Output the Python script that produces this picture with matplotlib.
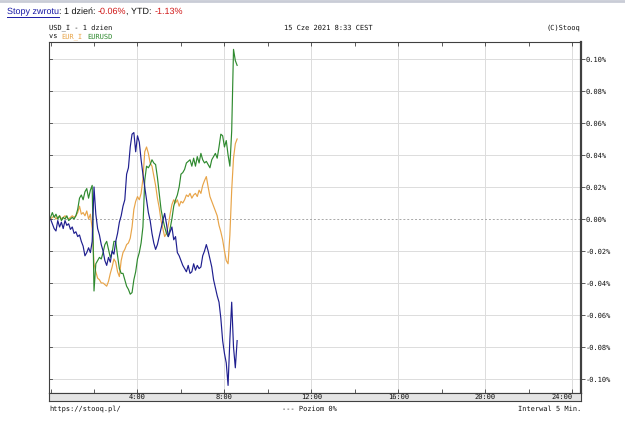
import numpy as np
import matplotlib.pyplot as plt
from matplotlib.lines import Line2D
from matplotlib.ticker import MultipleLocator, FixedLocator, FuncFormatter

plt.rcParams['text.hinting'] = 'none'
plt.rcParams['text.hinting_factor'] = 1

# 5-minute returns since 0:00, in hundredths of a percent
usd_i = [0, -0.3, -0.6, -0.75, -0.1, -0.5, -0.2, -0.6, -0.1, -0.4,
         -0.3, -0.65, -0.5, -0.9, -0.8, -1.1, -1.0, -1.4, -1.7, -2.3,
         -2.1, -1.8, -2.1, -1.4, 2.0, 0.3, -0.6, -1.0, -1.6, -2.0,
         -2.6, -2.9, -2.4, -2.7, -2.0, -2.2, -1.4, -0.9, -0.2, 0.2,
         0.8, 1.2, 2.8, 3.2, 4.5, 5.3, 5.4, 4.2, 5.2, 4.8,
         3.7, 2.8, 2.0, 1.2, 0.4, -0.1, -0.9, -1.5, -1.9, -1.6,
         -1.1, -0.6, -0.1, 0.35, -0.3, -1.1, -0.8, -0.5, -1.3, -1.1,
         -2.1, -2.3, -2.6, -2.9, -3.1, -3.3, -2.9, -3.4, -3.3, -2.8,
         -3.2, -2.9, -3.1, -3.0, -2.3, -2.0, -1.6, -2.0, -2.5, -3.0,
         -3.8, -4.3, -4.8, -5.2, -6.2, -7.6, -8.4, -9.0, -10.4, -7.5,
         -5.2, -8.0, -9.3, -7.6]
eur_i = [0.0, 0.1, 0.2, 0.0, 0.1, 0.2, 0.0, 0.1, 0.2, 0.1,
         0.0, 0.1, 0.2, 0.1, 0.2, 0.4, 0.8, 0.3, 0.4, 0.2,
         0.5, 0.0, 0.3, -0.6, -2.8, -3.3, -3.7, -3.8, -4.0, -4.0,
         -4.1, -4.2, -3.9, -3.4, -3.0, -2.5, -2.7, -3.3, -3.6, -2.6,
         -2.1, -1.9, -1.6, -1.5, -1.2, -0.5, 0.6, 1.1, 1.4, 1.2,
         1.6, 2.5, 4.2, 4.5, 4.1, 3.5, 3.3, 2.7, 2.1, 1.3,
         0.7, -0.1, -0.6, -1.1, -0.9, -0.4, 0.3, 0.9, 1.2, 1.0,
         1.2, 0.8, 1.1, 1.0, 1.2, 1.5, 1.4, 1.6, 1.3, 1.5,
         1.6, 1.4, 1.8, 1.6, 2.1, 2.4, 2.65, 2.0, 1.4, 1.1,
         0.8, 0.5, 0.2, -0.4, -0.8, -1.3, -2.0, -2.6, -2.8, -1.0,
         1.8, 3.8, 4.7, 5.0]
eurusd = [0.1, 0.4, 0.1, 0.3, 0.0, 0.2, -0.1, 0.1, 0.0, 0.2,
          -0.1, 0.0, 0.1, 0.0, 0.2, 0.6, 1.3, 1.5, 1.2, 1.7,
          1.9, 1.3, 1.8, 2.1, -4.5, -2.8, -2.6, -2.4, -2.5, -2.1,
          -1.6, -1.4, -1.9, -2.4, -2.1, -1.4, -1.4, -2.3, -3.1, -3.4,
          -3.4, -3.8, -4.2, -4.4, -4.7, -4.6, -3.8, -3.3, -2.5, -2.1,
          -1.5, -0.5, 2.4, 3.3, 3.2, 3.4, 3.7, 3.5, 3.4, 2.6,
          1.6, 0.6, 0.0, -0.5, -0.9, -1.1, -0.6, 0.0, 0.8, 1.2,
          1.5, 2.0, 2.8, 2.9, 3.1, 3.5, 3.6, 3.7, 3.3, 3.8,
          3.3, 3.9, 3.5, 4.1, 3.7, 3.5, 3.6, 3.4, 3.2, 3.7,
          3.9, 4.1, 3.8, 4.5, 5.3, 5.2, 4.5, 4.9, 4.0, 3.3,
          5.5, 10.6, 9.9, 9.6]

interval_min = 5
hour_labels = [4, 8, 12, 16, 20, 24]
pct_ticks = [-0.10, -0.08, -0.06, -0.04, -0.02, 0.0,
             0.02, 0.04, 0.06, 0.08, 0.10]

C_USD = '#1f1f8f'
C_EUR = '#e8a448'
C_EURUSD = '#2f8a2f'
C_FRAME = '#404040'
C_GRID = '#dcdcdc'
C_TXT = '#111111'
MONO = 'DejaVu Sans Mono'
SANS = 'Liberation Sans'
FS = 5.1

W, H = 625, 421
fig = plt.figure(figsize=(W / 100, H / 100), dpi=100)


def fx(px):
    return px / W


def fy(py):
    return 1 - py / H


# ---- main panel ----
ax = fig.add_axes([fx(49), fy(393), fx(581) - fx(49), fy(42) - fy(393)])
hours = np.arange(len(usd_i)) * interval_min / 60
for vals, col in [(eur_i, C_EUR), (eurusd, C_EURUSD), (usd_i, C_USD)]:
    ax.plot(hours, np.array(vals) / 100, color=col, lw=0.85)

ax.set_xlim(-0.07, 24.4)
ax.set_ylim(-0.10875, 0.1106)

ax.xaxis.set_major_locator(FixedLocator(hour_labels))
ax.xaxis.set_minor_locator(MultipleLocator(2))
ax.yaxis.set_major_locator(FixedLocator(pct_ticks))
ax.set_xticklabels([])
ax.yaxis.set_major_formatter(FuncFormatter(lambda v, _: f'{v:.2f}%'))
ax.tick_params(axis='x', which='both', direction='in', top=True,
               length=3, width=0.6, color=C_FRAME)
ax.tick_params(axis='y', which='both', left=False, right=True,
               labelleft=False, labelright=True, direction='out',
               length=3, width=0.6, color=C_FRAME, pad=0.5,
               labelsize=FS, labelcolor=C_TXT)
for lab in ax.get_yticklabels():
    lab.set_family(MONO)
# short inner ticks on the left border
for v in pct_ticks:
    ax.plot([-0.07, 0.07], [v, v], color=C_FRAME, lw=0.6, clip_on=False)

ax.grid(True, which='major', color=C_GRID, lw=0.7)
ax.set_axisbelow(True)
for loc, gl in zip(ax.get_yticks(), ax.get_ygridlines()):
    if abs(loc) < 1e-9:
        gl.set_color('#a8a8a8')
        gl.set_linestyle((0, (2, 2)))

for side, sp in ax.spines.items():
    sp.set_color(C_FRAME)
    sp.set_linewidth(1.6 if side == 'right' else 0.8)

# ---- time label strip under the panel ----
strip = fig.add_axes([fx(49), fy(401), fx(581) - fx(49), fy(393) - fy(401)],
                     sharex=ax)
strip.set_facecolor('#e4e4e4')
strip.set_yticks([])
strip.tick_params(axis='x', which='both', length=0, labelbottom=False)
for sp in strip.spines.values():
    sp.set_color(C_FRAME)
    sp.set_linewidth(0.8)
for h in hour_labels:
    strip.text(h, 0.45, f'{h}:00', ha='center' if h < 24 else 'right',
               va='center', fontsize=FS, family=MONO, color=C_TXT,
               transform=strip.get_xaxis_transform())

# ---- header and footer text ----
fig.add_artist(Line2D([0, 1], [fy(1), fy(1)], color='#c9ccd6', lw=2))

renderer = fig.canvas.get_renderer()


def chain(x, y, pieces, **kw):
    for s, col in pieces:
        t = fig.text(x, y, s, color=col, va='center', **kw)
        bb = t.get_window_extent(renderer)
        yield t, x, bb.width / W
        x += bb.width / W


head = [('Stopy zwrotu', '#1a1aa6'), (': 1 dzień: ', '#111111'),
        ('-0.06%', '#d01818'), (', YTD: ', '#111111'),
        ('-1.13%', '#d01818')]
for i, (t, x0, w) in enumerate(chain(fx(7), fy(12), head,
                                     family=SANS, fontsize=6.8)):
    if i == 0:
        fig.add_artist(Line2D([x0, x0 + w], [fy(17), fy(17)],
                              color='#1a1aa6', lw=0.7))

fig.text(fx(49), fy(28), 'USD_I - 1 dzien', family=MONO, fontsize=FS,
         color=C_TXT, va='center')
legend = [('vs ', C_TXT), ('EUR_I', C_EUR), (' ', C_TXT),
          ('EURUSD', C_EURUSD)]
list(chain(fx(49), fy(37), legend, family=MONO, fontsize=FS))

fig.text(fx(328), fy(28), '15 Cze 2021 8:33 CEST', family=MONO,
         fontsize=FS, color=C_TXT, ha='center', va='center')
fig.text(fx(580), fy(28), '(C)Stooq', family=MONO, fontsize=FS,
         color=C_TXT, ha='right', va='center')

fig.text(fx(49), fy(409), 'https://stooq.pl/', family=MONO, fontsize=FS,
         color=C_TXT, va='center')
fig.text(fx(309), fy(409), '--- Poziom 0%', family=MONO, fontsize=FS,
         color=C_TXT, ha='center', va='center')
fig.text(fx(581), fy(409), 'Interwal 5 Min.', family=MONO, fontsize=FS,
         color=C_TXT, ha='right', va='center')

fig.savefig('out.png', dpi=100)
